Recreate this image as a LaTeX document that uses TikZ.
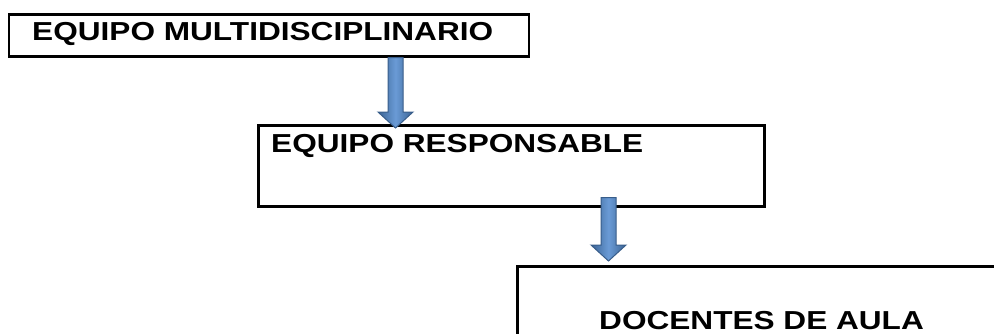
\documentclass[tikz,border=0pt]{standalone}
\usepackage{fontspec}
\usepackage{graphicx}
\setmainfont{Liberation Sans}
\usetikzlibrary{calc}
\definecolor{arrowfill}{HTML}{4A7EBB}
\definecolor{arrowlight}{HTML}{6A9BD6}
\definecolor{arrowedge}{HTML}{385D8A}
\tikzset{
  boxshape/.style={draw=black, line width=2.6pt, fill=white, rectangle, inner sep=0pt, anchor=north west},
  boxtext/.style={inner sep=0pt, anchor=base west, font=\fontsize{26}{30}\selectfont\bfseries},
  barrow/.style={draw=arrowedge, line width=1pt, left color=arrowedge!80!arrowfill, right color=arrowedge!80!arrowfill, middle color=arrowlight, line join=miter}
}
\newcommand{\blkarrow}[2]{%
  \path[barrow] ($(#1)+(-7.5,0)$) -- ($(#2)+(-7.5,-16)$) -- ($(#2)+(-17.5,-16)$) -- (#2) -- ($(#2)+(17.5,-16)$) -- ($(#2)+(7.5,-16)$) -- ($(#1)+(7.5,0)$) -- cycle;}
\begin{document}
\begin{tikzpicture}[x=1pt,y=-1pt]
\useasboundingbox (0,0) rectangle (994,333);
\clip (0,0) rectangle (994,333);
% boxes
\node[boxshape, minimum width=520pt, minimum height=42pt] (b1) at (7.5,13) {};
\node[boxshape, minimum width=506pt, minimum height=81pt] (b2) at (257,124) {};
\node[boxshape, minimum width=500pt, minimum height=100pt] (b3) at (516,265) {};
% texts
\node[boxtext] (t1) at (32,40) {\scalebox{1.215}[1]{EQUIPO MULTIDISCIPLINARIO}};
\node[boxtext] (t2) at (271,152) {\scalebox{1.215}[1]{EQUIPO RESPONSABLE}};
\node[boxtext] (t3) at (599,329) {\scalebox{1.215}[1]{DOCENTES DE AULA}};
% arrow anchor points
\coordinate (a1s) at ($(b1.south west)+(388,0)$);
\coordinate (a1e) at ($(b2.north west)+(138.5,4)$);
\coordinate (a2s) at ($(b2.south west)+(351.5,-10)$);
\coordinate (a2e) at ($(b3.north west)+(92.5,-4)$);
\blkarrow{a1s}{a1e}
\blkarrow{a2s}{a2e}
\end{tikzpicture}
\end{document}
